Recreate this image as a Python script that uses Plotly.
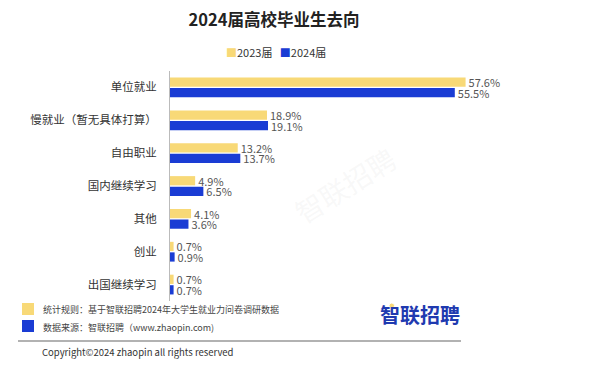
import plotly.graph_objects as go

categories = ["单位就业", "慢就业（暂无具体打算）", "自由职业", "国内继续学习", "其他", "创业", "出国继续学习"]
values_2023 = [57.6, 18.9, 13.2, 4.9, 4.1, 0.7, 0.7]
values_2024 = [55.5, 19.1, 13.7, 6.5, 3.6, 0.9, 0.7]
series_names = ["2023届", "2024届"]

YELLOW = "#F8D977"
BLUE = "#1A3CD4"
FONT = "Noto Sans CJK SC"

OFF = 8  # page body margin
W, H = 600 - OFF, 367 - OFF
L, R, T, B = 170 - OFF, 40, 71 - OFF, 66
PW, PH = W - L - R, H - T - B

def px(x):
    return (x - OFF - L) / PW

def py(y):
    return (H - B - (y - OFF)) / PH

fig = go.Figure()
for name, vals, col in [(series_names[0], values_2023, YELLOW), (series_names[1], values_2024, BLUE)]:
    fig.add_trace(go.Bar(
        y=categories, x=vals, name=name, orientation="h",
        marker=dict(color=col, line=dict(width=0)),
        text=[f"{v:.1f}%" for v in vals], textposition="outside", constraintext="none",
        textfont=dict(size=11, color="#555", family=FONT),
        cliponaxis=False, showlegend=False,
    ))

fig.update_layout(
    width=W, height=H,
    margin=dict(l=L, r=R, t=T, b=B, autoexpand=False),
    paper_bgcolor="white", plot_bgcolor="white",
    barmode="group", bargap=0.36, bargroupgap=0.12,
    font=dict(family=FONT, color="#333"),
    title=dict(text="<b>2024届高校毕业生去向</b>", x=(274 - OFF) / W, xanchor="center",
               y=1 - (20 - OFF) / H, yanchor="middle", font=dict(size=16.5, color="#222", family=FONT)),
    xaxis=dict(range=[0, 76], visible=False, fixedrange=True, automargin=False),
    yaxis=dict(autorange="reversed", showline=True, linecolor="#bbb", linewidth=1, automargin=False,
               ticks="", ticklabelstandoff=10, tickfont=dict(size=11.5, color="#333", family=FONT),
               showgrid=False, zeroline=False),
)

# top legend
fig.add_annotation(xref="paper", yref="paper", x=px(224), y=py(52), xanchor="left", yanchor="middle",
                   text=f"<span style='color:{YELLOW}'>■</span>{series_names[0]}   <span style='color:{BLUE}'>■</span>{series_names[1]}",
                   showarrow=False, font=dict(size=11, color="#333", family=FONT))

# watermark
fig.add_annotation(xref="paper", yref="paper", x=px(284), y=py(185), text="智联招聘", showarrow=False,
                   textangle=-32, font=dict(size=28, color="rgba(200,200,200,0.13)", family=FONT))

# footer legend squares
fig.add_shape(type="rect", xref="paper", yref="paper", x0=px(22), x1=px(34), y0=py(303), y1=py(315),
              fillcolor=YELLOW, line=dict(width=0))
fig.add_shape(type="rect", xref="paper", yref="paper", x0=px(22), x1=px(34), y0=py(320), y1=py(332),
              fillcolor=BLUE, line=dict(width=0))
fig.add_annotation(xref="paper", yref="paper", x=px(41), y=py(309), xanchor="left", yanchor="middle",
                   text="统计规则：基于智联招聘2024年大学生就业力问卷调研数据", showarrow=False,
                   font=dict(size=9, color="#444", family=FONT))
fig.add_annotation(xref="paper", yref="paper", x=px(41), y=py(327), xanchor="left", yanchor="middle",
                   text="数据来源：智联招聘（www.zhaopin.com)", showarrow=False,
                   font=dict(size=9, color="#444", family=FONT))

# logo
fig.add_annotation(xref="paper", yref="paper", x=px(420), y=py(314), xanchor="center", yanchor="middle",
                   text="<b>智联招聘</b>", showarrow=False, font=dict(size=20, color="#1F3AB0", family=FONT))
fig.add_shape(type="circle", xref="paper", yref="paper", x0=px(389), x1=px(394.5), y0=py(303), y1=py(308.5),
              fillcolor=YELLOW, line=dict(color="white", width=1))

# separator line
fig.add_shape(type="line", xref="paper", yref="paper", x0=px(18), x1=px(461), y0=py(341), y1=py(341),
              line=dict(color="#999", width=1.5))

fig.add_annotation(xref="paper", yref="paper", x=px(40), y=py(352), xanchor="left", yanchor="middle",
                   text="Copyright©2024 zhaopin all rights reserved", showarrow=False,
                   font=dict(size=9.5, color="#333", family=FONT))

fig.write_html("out.html")
